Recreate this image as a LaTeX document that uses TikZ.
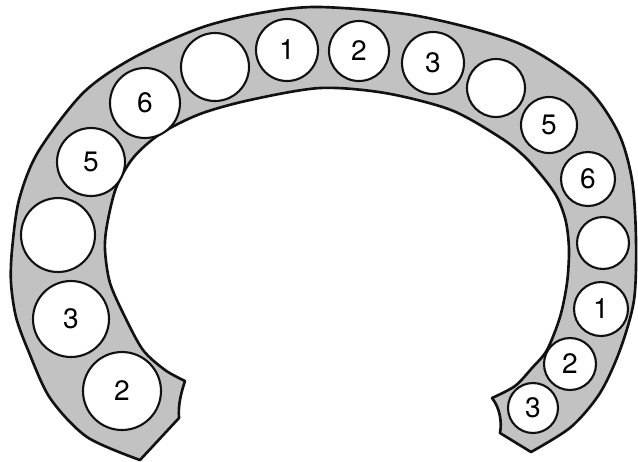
\documentclass[tikz,border=0pt]{standalone}
\usepackage{fontspec}
\setmainfont{TeX Gyre Heros}
\usepackage{tikz}
\usepackage{xcolor}
\usetikzlibrary{positioning}
\definecolor{RingGray}{HTML}{C2C2C2}
\definecolor{RingBlack}{HTML}{111111}
\definecolor{RingWhite}{HTML}{ffffff}
\tikzset{
    % Horseshoe band
    bandshape/.style={
        draw=RingBlack,
        fill=RingGray,
        line width=1.5pt,
        line join=round
    },
    % Base seat (white circle)
    seatnode/.style={
        circle,
        draw=RingBlack,
        fill=RingWhite,
        line width=1.2pt,
        inner sep=0pt,
        font=\fontsize{16}{16}\selectfont
    },
    % Large seat (left side)
    bigseat/.style={
        seatnode,
        minimum size=1.5cm
    },
    % Medium seat (top)
    midseat/.style={
        seatnode,
        minimum size=1.24cm
    },
    % Small seat (right side)
    smallseat/.style={
        seatnode,
        minimum size=1.06cm
    }
}

\begin{document}
\begin{tikzpicture}[x=0.02cm, y=-0.02cm]
        \useasboundingbox (0,0) rectangle (638,461);

        % Band
        \draw[bandshape] plot[smooth] coordinates {(140,460) (87,437) (50,398) (28,350) (16,317) (11,283) (12,250) (19,200) (38,152) (83,93) (133,58) (200,28) (260,13) (320,7) (418,16) (518,43) (585,86) (618,132) (632,180) (636,240) (634,300) (620,350) (600,393) (571,427) (531,452)}
            -- (500,433) .. controls (502,422) and (500,408) .. (492,398)
            -- plot[smooth] coordinates {(492,398) (515,386) (532,368) (547,350) (560,317) (567,283) (569,250) (566,222) (558,199) (546,181) (525,157) (501,138) (451,110) (385,93) (320,88) (250,100) (200,114) (160,134) (133,158) (116,188) (107,225) (105,250) (110,283) (125,317) (143,350) (165,370) (185,381)}
            .. controls (181,393) and (178,405) .. (179,418) -- cycle;

        % Left seats
        \node[bigseat, minimum size=1.56cm] (l2) at (122,391) {2};
        \node[bigseat, minimum size=1.52cm] (l3) at (71,319) {3};
        \node[bigseat, minimum size=1.48cm] (l4) at (58,235) {};
        \node[bigseat, minimum size=1.36cm] (l5) at (91,162) {5};
        \node[bigseat, minimum size=1.40cm] (l6) at (145,103) {6};

        % Top seats
        \node[midseat, minimum size=1.36cm] (t0) at (215,67) {};
        \node[midseat] (t1) at (287,50) {1};
        \node[midseat, minimum size=1.20cm] (t2) at (359,51) {2};
        \node[midseat] (t3) at (433,63) {3};
        \node[midseat, minimum size=1.16cm] (t4) at (496,88) {};

        % Right seats
        \node[smallseat, minimum size=1.12cm] (r5) at (549,125) {5};
        \node[smallseat, minimum size=1.08cm] (r6) at (588,179) {6};
        \node[smallseat, minimum size=1.04cm] (r0) at (603,243) {};
        \node[smallseat, minimum size=1.08cm] (r1) at (601,309) {1};
        \node[smallseat, minimum size=1.04cm] (r2) at (570,364) {2};
        \node[smallseat, minimum size=1.00cm] (r3) at (533,408) {3};
\end{tikzpicture}
\end{document}
